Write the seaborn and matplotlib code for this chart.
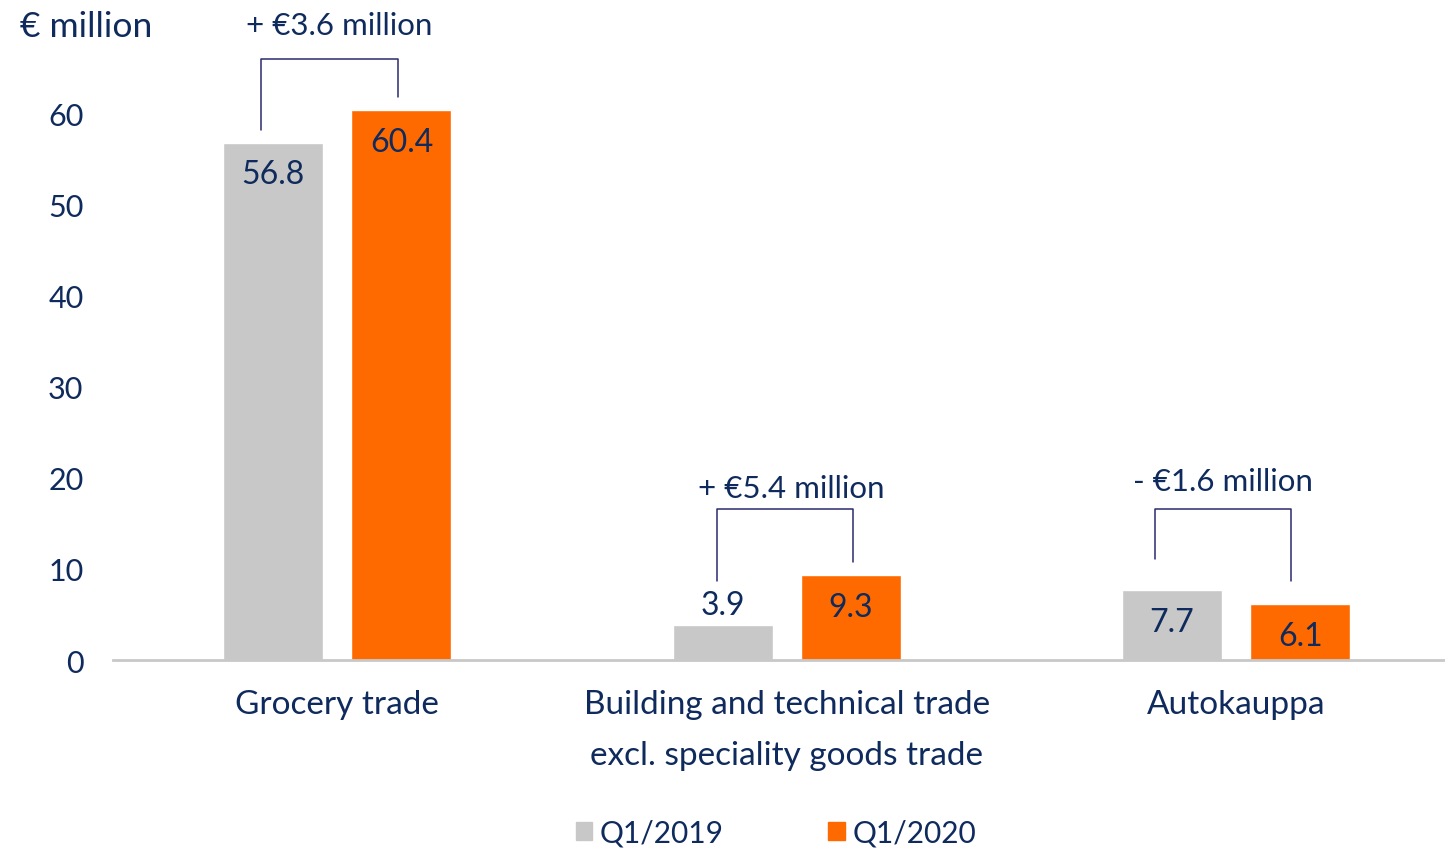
import matplotlib
matplotlib.use("Agg")
import matplotlib.pyplot as plt
from matplotlib.patches import Patch
import pandas as pd
import seaborn as sns

# data
segments = ["Grocery trade",
            "Building and technical trade\nexcl. speciality goods trade",
            "Autokauppa"]
q1_2019 = [56.8, 3.9, 7.7]
q1_2020 = [60.4, 9.3, 6.1]
periods = ["Q1/2019", "Q1/2020"]
change_labels = ["+ €3.6 million", "+ €5.4 million", "- €1.6 million"]

NAVY = "#0F2A5C"
GREY = "#C8C8C8"
ORANGE = "#FF6A00"

df = pd.DataFrame({
    "segment": segments * 2,
    "period": [periods[0]] * 3 + [periods[1]] * 3,
    "value": q1_2019 + q1_2020,
})

sns.set_style("white")
plt.rcParams["font.family"] = ["Lato", "DejaVu Sans"]
plt.rcParams["text.color"] = NAVY

fig = plt.figure(figsize=(14.45, 8.53), dpi=100)
ax = fig.add_axes([0.078, 0.225, 0.922, 0.705])

sns.barplot(data=df, x="segment", y="value", hue="period",
            palette=[GREY, ORANGE], saturation=1, width=0.57, gap=0.22,
            legend=False, ax=ax)

ax.set_ylim(0, 66)
ax.set_xlim(-0.5, 2.465)
ax.set_yticks(range(0, 61, 10))
ax.set_xlabel("")
ax.set_ylabel("")
for s in ["top", "right", "left"]:
    ax.spines[s].set_visible(False)
ax.spines["bottom"].set_color(GREY)
ax.spines["bottom"].set_linewidth(2)
ax.tick_params(axis="y", length=0, pad=21, labelsize=22, labelcolor=NAVY)
ax.tick_params(axis="x", length=0, pad=21, labelsize=24, labelcolor=NAVY)
for lbl in ax.get_xticklabels():
    lbl.set_linespacing(1.85)

# value labels: inside near top, or above if bar is short
for container in ax.containers:
    for bar in container:
        h = bar.get_height()
        cx = bar.get_x() + bar.get_width() / 2
        off = 14 if h < 5 else -23
        ax.annotate(f"{h:.1f}", (cx, h), xytext=(0, off),
                    textcoords="offset points", ha="center", va="center",
                    fontsize=23, color=NAVY)

# change brackets (left x, right x offsets; top, left bottom, right bottom)
bracket_dx = [(-0.169, 0.136), (-0.156, 0.147), (-0.18, 0.122)]
bracket_y = [(66.0, 58.2, 61.75), (16.6, 8.7, 10.75), (16.6, 11.1, 8.7)]
label_y = [69.7, 18.9, 19.6]
label_dx = [0.005, 0.01, -0.03]
for i, txt in enumerate(change_labels):
    xl, xr = i + bracket_dx[i][0], i + bracket_dx[i][1]
    top, lb, rb = bracket_y[i]
    ax.plot([xl, xl, xr, xr], [lb, top, top, rb], color="#2A2A6E",
            lw=1.1, clip_on=False)
    ax.text(i + label_dx[i], label_y[i], txt, ha="center", va="center",
            fontsize=22.5, color=NAVY, clip_on=False)

fig.text(20 / 1445, 1 - 27 / 853, "€ million", ha="left", va="center",
         fontsize=25.5, color=NAVY)

handles = [Patch(color=GREY), Patch(color=ORANGE)]
fig.legend(handles, periods, loc="center", ncol=2,
           bbox_to_anchor=(776 / 1445, 1 - 834 / 853), frameon=False,
           fontsize=21.5, handlelength=0.55, handleheight=0.55,
           handletextpad=0.25, columnspacing=3.5, labelcolor=NAVY)

fig.savefig("out.png", dpi=100)
